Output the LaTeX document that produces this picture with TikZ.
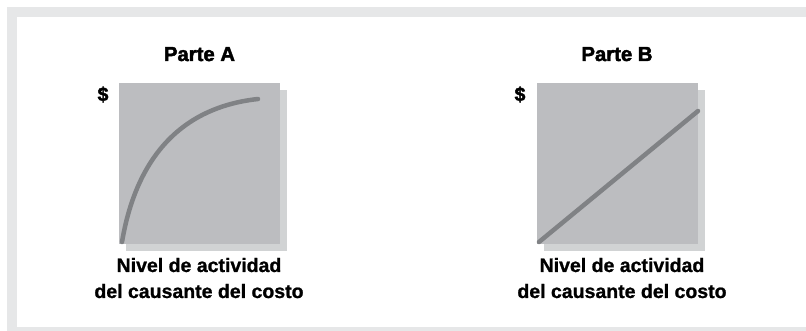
\documentclass[tikz,border=0pt]{standalone}
\usepackage{fontspec}
\setmainfont{Liberation Sans}
\newfontfamily\heavyfont{Liberation Sans Bold}[FakeBold=2.2]
\newfontfamily\labelfont{Liberation Sans Bold}[FakeBold=1.0]
\definecolor{framegray}{RGB}{230,231,232}
\definecolor{boxgray}{RGB}{188,189,192}
\definecolor{shadowgray}{RGB}{209,211,212}
\definecolor{curvegray}{RGB}{128,130,133}
\tikzset{
  x=1pt, y=-1pt,
  panel/.style={fill=boxgray, draw=none},
  panelshadow/.style={fill=shadowgray, draw=none},
  costline/.style={draw=curvegray, line width=4.5pt, line cap=round},
  heading/.style={font=\fontsize{20.3}{24}\heavyfont, anchor=base, inner sep=0pt},
  axislabel/.style={font=\fontsize{19.5}{26}\labelfont, anchor=base, inner sep=0pt},
  dollar/.style={font=\fontsize{19.5}{24}\heavyfont, anchor=base, inner sep=0pt}
}
\begin{document}
\begin{tikzpicture}
\useasboundingbox (0,0) rectangle (806,331);
% frame
\fill[white] (0,0) rectangle (806,331);
\fill[framegray] (7,7) rectangle (806,331);
\fill[white] (17,17) rectangle (806,327);
% Parte A
\node[heading] (headA) at (199.5,61) {Parte A};
\fill[panelshadow] (126,90) rectangle (287,251);
\node[panel, minimum width=161pt, minimum height=161pt, inner sep=0pt] (boxA) at (199.5,163.5) {};
\node[dollar] (dolA) at (103,101) {\$};
\coordinate (a0) at (122,242);
\coordinate (a1) at (258,99);
\draw[costline] (a0) .. controls (135,165) and (175,108) .. (a1);
\node[axislabel] (labA1) at (199,272) {Nivel de actividad};
\node[axislabel] (labA2) at (199,298) {del causante del costo};
% Parte B
\node[heading] (headB) at (617,61) {Parte B};
\fill[panelshadow] (544,90) rectangle (705,251);
\node[panel, minimum width=161pt, minimum height=161pt, inner sep=0pt] (boxB) at (617.5,163.5) {};
\node[dollar] (dolB) at (520,101) {\$};
\coordinate (b0) at (539,242);
\coordinate (b1) at (698,111);
\draw[costline] (b0) -- (b1);
\node[axislabel] (labB1) at (622,272) {Nivel de actividad};
\node[axislabel] (labB2) at (622,298) {del causante del costo};
\end{tikzpicture}
\end{document}
